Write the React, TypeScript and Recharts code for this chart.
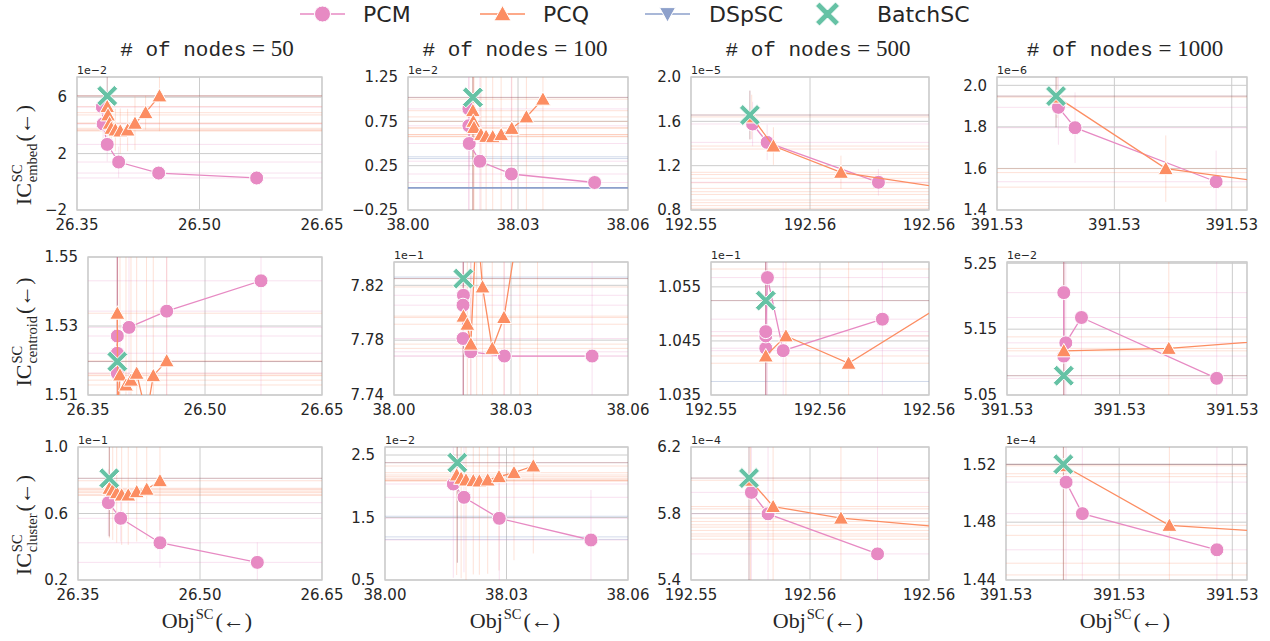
import React from 'react';
import { ScatterChart, Scatter, XAxis, YAxis, CartesianGrid, ReferenceLine, ReferenceArea } from 'recharts';

type P = [number, number, number, number]; // x, y, xErr, yErr

const PINK = '#e78ac3';
const ORANGE = '#fc8d62';
const BLUE = '#8da0cb';
const GREEN = '#66c2a5';
const TXT = '#262626';

const seriesNames = ['PCM', 'PCQ', 'DSpSC', 'BatchSC'];
const nodeCounts = ['50', '100', '500', '1000'];
const metricNames = ['embed', 'centroid', 'cluster'];

// x axes (one per node count)
const xDomain50 = [26.35, 26.65];
const xTicks50 = [26.35, 26.5, 26.65];
const xDomain100 = [38.0, 38.06];
const xTicks100 = [38.0, 38.03, 38.06];
const xDomain500 = [192.553, 192.561];
const xTicks500 = [192.553, 192.557, 192.561];
const xDomain1000 = [391.53, 391.53213];
const xTicks1000 = [391.53, 391.531, 391.532];

// y axes
const yEmbed50 = [-2, 7.43];
const yEmbed50Ticks = [-2, 2, 6];
const yEmbed100 = [-0.25, 1.25];
const yEmbed100Ticks = [-0.25, 0.25, 0.75, 1.25];
const yEmbed500 = [0.8, 2.0];
const yEmbed500Ticks = [0.8, 1.2, 1.6, 2.0];
const yEmbed1000 = [1.4, 2.04];
const yEmbed1000Ticks = [1.4, 1.6, 1.8, 2.0];
const yCent50 = [1.51, 1.55];
const yCent50Ticks = [1.51, 1.53, 1.55];
const yCent100 = [7.74, 7.837];
const yCent100Ticks = [7.74, 7.78, 7.82];
const yCent500 = [1.035, 1.0596];
const yCent500Ticks = [1.035, 1.045, 1.055];
const yCent1000 = [5.05, 5.252];
const yCent1000Ticks = [5.05, 5.15, 5.25];
const yClus50 = [0.2, 1.0];
const yClus50Ticks = [0.2, 0.6, 1.0];
const yClus100 = [0.5, 2.628];
const yClus100Ticks = [0.5, 1.5, 2.5];
const yClus500 = [5.4, 6.2];
const yClus500Ticks = [5.4, 5.8, 6.2];
const yClus1000 = [1.44, 1.532];
const yClus1000Ticks = [1.44, 1.48, 1.52];

// ---------- IC embed ----------
const embed50PCM: P[] = [[26.381, 5.3, 0.5, 0.5], [26.382, 4.1, 0.5, 1.7], [26.387, 2.65, 0.5, 1.2], [26.401, 1.4, 0.5, 1.1], [26.45, 0.62, 0.5, 0.5], [26.57, 0.27, 0.5, 0.4]];
const embed50PCQ: P[] = [[26.387, 5.33, 0.5, 1.0], [26.388, 4.74, 0.5, 1.5], [26.39, 4.15, 0.5, 1.5], [26.392, 3.79, 0.5, 1.5], [26.397, 3.67, 0.5, 1.5], [26.403, 3.6, 0.5, 1.6], [26.412, 3.67, 0.5, 1.5], [26.421, 4.15, 0.5, 1.9], [26.434, 4.9, 0.5, 1.2], [26.451, 6.09, 0.5, 2.5]];
const embed50DSp: P[] = [];
const embed50Batch: P[] = [[26.387, 6.09, 0.5, 1.4]];

const embed100PCM: P[] = [[38.0166, 0.89, 0.5, 1.5], [38.0166, 0.7, 0.5, 1.5], [38.0167, 0.5, 0.5, 0.3], [38.0196, 0.3, 0.5, 1.5], [38.0282, 0.156, 0.5, 1.5], [38.0509, 0.06, 0.5, 0.05]];
const embed100PCQ: P[] = [[38.0177, 0.87, 0.5, 2], [38.0178, 0.75, 0.5, 2], [38.018, 0.68, 0.5, 2], [38.0199, 0.6, 0.5, 2], [38.0213, 0.58, 0.5, 2], [38.0231, 0.576, 0.5, 2], [38.0254, 0.6, 0.5, 2], [38.0283, 0.67, 0.5, 2], [38.0323, 0.8, 0.5, 2], [38.0368, 1.0, 0.5, 2]];
const embed100DSp: P[] = [[37.95, 0.0, 0, 0], [38.12, 0.0, 0.5, 0], [38.2, 0.33, 0.5, 0], [38.25, 0.35, 0.5, 0]];
const embed100Batch: P[] = [[38.0177, 1.02, 0.5, 2]];

const embed500PCM: P[] = [[192.55507, 1.576, 0.05, 0.2], [192.55556, 1.41, 0.05, 0.16], [192.5593, 1.05, 0.05, 0.12]];
const embed500PCQ: P[] = [[192.55504, 1.64, 0.05, 0.2], [192.55577, 1.377, 0.05, 0.17], [192.55804, 1.14, 0.05, 0.15], [192.563, 0.94, 0.05, 0.1], [192.565, 1.086, 0.05, 0], [192.567, 1.046, 0.05, 0], [192.569, 0.995, 0.05, 0], [192.571, 0.965, 0.05, 0], [192.573, 0.89, 0.05, 0], [192.575, 0.866, 0.05, 0], [192.577, 0.84, 0.05, 0], [192.579, 0.815, 0.05, 0], [192.581, 1.12, 0.05, 0], [192.583, 1.35, 0.05, 0]];
const embed500DSp: P[] = [];
const embed500Batch: P[] = [[192.55498, 1.657, 0.05, 0.22]];

const embed1000PCM: P[] = [[391.530523, 1.894, 0.05, 0.18], [391.530665, 1.796, 0.05, 0.17], [391.531867, 1.536, 0.05, 0.15]];
const embed1000PCQ: P[] = [[391.530512, 1.943, 0.05, 0.1], [391.531438, 1.599, 0.05, 0.16], [391.5326, 1.51, 0.05, 0.1], [391.533, 1.58, 0.05, 0]];
const embed1000DSp: P[] = [];
const embed1000Batch: P[] = [[391.530503, 1.948, 0.05, 0.15]];

// ---------- IC centroid ----------
const cent50PCM: P[] = [[26.3876, 1.5163, 0.5, 1], [26.3876, 1.5221, 0.5, 1], [26.3876, 1.5271, 0.5, 1], [26.4026, 1.5296, 0.5, 1], [26.4509, 1.5343, 0.5, 1], [26.5718, 1.5431, 0.5, 1]];
const cent50PCQ: P[] = [[26.3876, 1.5337, 0.5, 1], [26.388, 1.505, 0.5, 1], [26.391, 1.5158, 0.5, 1], [26.3987, 1.5129, 0.5, 1], [26.4051, 1.5143, 0.5, 1], [26.4124, 1.5163, 0.5, 1], [26.425, 1.504, 0.5, 1], [26.4337, 1.5156, 0.5, 1], [26.4509, 1.5199, 0.5, 1]];
const cent50DSp: P[] = [];
const cent50Batch: P[] = [[26.3876, 1.5197, 0.5, 1]];

const cent100PCM: P[] = [[38.0178, 7.8127, 0.5, 1], [38.0177, 7.8055, 0.5, 1], [38.0177, 7.7812, 0.5, 1], [38.0197, 7.7715, 0.5, 1], [38.0283, 7.7684, 0.5, 1], [38.0508, 7.7684, 0.5, 1]];
const cent100PCQ: P[] = [[38.0178, 7.7975, 0.5, 1], [38.0188, 7.7916, 0.5, 1], [38.0197, 7.7771, 0.5, 1], [38.0212, 7.87, 0.5, 1], [38.0227, 7.8188, 0.5, 1], [38.0252, 7.774, 0.5, 1], [38.0282, 7.7965, 0.5, 1], [38.0323, 7.87, 0.5, 1], [38.0368, 7.9, 0.5, 1]];
const cent100DSp: P[] = [[38.2, 7.826, 0.5, 0]];
const cent100Batch: P[] = [[38.01778, 7.8249, 0.5, 1]];

const cent500PCM: P[] = [[192.55501, 1.04365, 0.05, 1], [192.55501, 1.04593, 0.05, 1], [192.55501, 1.04672, 0.05, 1], [192.55507, 1.05672, 0.05, 1], [192.55565, 1.0432, 0.05, 1], [192.55929, 1.04902, 0.05, 1]];
const cent500PCQ: P[] = [[192.55501, 1.04222, 0.05, 1], [192.55575, 1.04593, 0.05, 1], [192.55805, 1.04087, 0.05, 1], [192.5636, 1.0583, 0.05, 1]];
const cent500DSp: P[] = [[192.58, 1.0375, 0.05, 0]];
const cent500Batch: P[] = [[192.55501, 1.05246, 0.05, 1]];

const cent1000PCM: P[] = [[391.530504, 5.2055, 0.05, 1], [391.530504, 5.1091, 0.05, 1], [391.530522, 5.1292, 0.05, 1], [391.530661, 5.1677, 0.05, 1], [391.531861, 5.0753, 0.05, 1]];
const cent1000PCQ: P[] = [[391.530504, 5.1171, 0.05, 1], [391.531436, 5.1208, 0.05, 1], [391.53277, 5.1383, 0.05, 1]];
const cent1000DSp: P[] = [];
const cent1000Batch: P[] = [[391.530504, 5.0793, 0.05, 1]];

// ---------- IC cluster ----------
const clus50PCM: P[] = [[26.3873, 0.665, 0.5, 0.2], [26.4025, 0.571, 0.5, 0.14], [26.4508, 0.424, 0.5, 0.15], [26.5705, 0.306, 0.5, 0.12]];
const clus50PCQ: P[] = [[26.3885, 0.7516, 0.5, 0.3], [26.3927, 0.741, 0.5, 0.3], [26.3976, 0.725, 0.5, 0.3], [26.4037, 0.711, 0.5, 0.3], [26.4118, 0.711, 0.5, 0.3], [26.4222, 0.731, 0.5, 0.3], [26.4345, 0.746, 0.5, 0.3], [26.4508, 0.797, 0.5, 0.3]];
const clus50DSp: P[] = [];
const clus50Batch: P[] = [[26.3885, 0.8117, 0.5, 0.35]];

const clus100PCM: P[] = [[38.01687, 2.036, 0.5, 1.5], [38.0195, 1.823, 0.5, 1.2], [38.02822, 1.487, 0.5, 1.2], [38.05086, 1.14, 0.5, 0.8]];
const clus100PCQ: P[] = [[38.0177, 2.18, 0.5, 1.6], [38.0188, 2.127, 0.5, 1.6], [38.02, 2.1, 0.5, 1.6], [38.0218, 2.089, 0.5, 1.5], [38.0233, 2.084, 0.5, 1.5], [38.02536, 2.1, 0.5, 1.5], [38.02815, 2.153, 0.5, 1.5], [38.03185, 2.217, 0.5, 1.4], [38.03662, 2.324, 0.5, 1.4]];
const clus100DSp: P[] = [[38.2, 1.19, 0.5, 0], [38.22, 1.15, 0.5, 0], [38.24, 1.52, 0.5, 0]];
const clus100Batch: P[] = [[38.01786, 2.377, 0.5, 1.6]];

const clus500PCM: P[] = [[192.55503, 5.927, 0.05, 1], [192.55559, 5.798, 0.05, 1], [192.55927, 5.557, 0.05, 1]];
const clus500PCQ: P[] = [[192.555, 6.0, 0.05, 1], [192.55576, 5.842, 0.05, 1], [192.55804, 5.772, 0.05, 1], [192.565, 5.664, 0.05, 0], [192.567, 5.828, 0.05, 0], [192.569, 5.752, 0.05, 0], [192.571, 5.732, 0.05, 0], [192.573, 5.718, 0.05, 0], [192.575, 5.698, 0.05, 0], [192.577, 5.677, 0.05, 0], [192.579, 5.645, 0.05, 0]];
const clus500DSp: P[] = [];
const clus500Batch: P[] = [[192.55495, 6.013, 0.05, 1]];

const clus1000PCM: P[] = [[391.530531, 1.5077, 0.05, 1], [391.530675, 1.4859, 0.05, 1], [391.531864, 1.4609, 0.05, 1]];
const clus1000PCQ: P[] = [[391.53051, 1.519, 0.05, 1], [391.531444, 1.4778, 0.05, 1], [391.5328, 1.4709, 0.05, 0], [391.5335, 1.5135, 0.05, 0], [391.534, 1.5115, 0.05, 0], [391.5345, 1.4516, 0.05, 0], [391.535, 1.4435, 0.05, 0]];
const clus1000DSp: P[] = [];
const clus1000Batch: P[] = [[391.530507, 1.52, 0.05, 1]];

type Cfg = {
  L: number; R: number; T: number; B: number;
  xd: number[]; xt: number[]; yd: number[]; yt: number[]; yDec: number; off: string;
  pcm: P[]; pcq: P[]; dsp: P[]; batch: P[];
};

const panels: Cfg[] = [
  { L: 77, R: 322, T: 77, B: 210, xd: xDomain50, xt: xTicks50, yd: yEmbed50, yt: yEmbed50Ticks, yDec: 0, off: '1e\u22122', pcm: embed50PCM, pcq: embed50PCQ, dsp: embed50DSp, batch: embed50Batch },
  { L: 408, R: 628, T: 77, B: 210, xd: xDomain100, xt: xTicks100, yd: yEmbed100, yt: yEmbed100Ticks, yDec: 2, off: '1e\u22122', pcm: embed100PCM, pcq: embed100PCQ, dsp: embed100DSp, batch: embed100Batch },
  { L: 691, R: 929, T: 77, B: 210, xd: xDomain500, xt: xTicks500, yd: yEmbed500, yt: yEmbed500Ticks, yDec: 1, off: '1e\u22125', pcm: embed500PCM, pcq: embed500PCQ, dsp: embed500DSp, batch: embed500Batch },
  { L: 997, R: 1247, T: 77, B: 210, xd: xDomain1000, xt: xTicks1000, yd: yEmbed1000, yt: yEmbed1000Ticks, yDec: 1, off: '1e\u22126', pcm: embed1000PCM, pcq: embed1000PCQ, dsp: embed1000DSp, batch: embed1000Batch },
  { L: 88, R: 322, T: 257, B: 395, xd: xDomain50, xt: xTicks50, yd: yCent50, yt: yCent50Ticks, yDec: 2, off: '', pcm: cent50PCM, pcq: cent50PCQ, dsp: cent50DSp, batch: cent50Batch },
  { L: 394, R: 628, T: 262, B: 395, xd: xDomain100, xt: xTicks100, yd: yCent100, yt: yCent100Ticks, yDec: 2, off: '1e\u22121', pcm: cent100PCM, pcq: cent100PCQ, dsp: cent100DSp, batch: cent100Batch },
  { L: 711, R: 929, T: 262, B: 395, xd: xDomain500, xt: xTicks500, yd: yCent500, yt: yCent500Ticks, yDec: 3, off: '1e\u22121', pcm: cent500PCM, pcq: cent500PCQ, dsp: cent500DSp, batch: cent500Batch },
  { L: 1007, R: 1247, T: 262, B: 395, xd: xDomain1000, xt: xTicks1000, yd: yCent1000, yt: yCent1000Ticks, yDec: 2, off: '1e\u22122', pcm: cent1000PCM, pcq: cent1000PCQ, dsp: cent1000DSp, batch: cent1000Batch },
  { L: 78, R: 322, T: 447, B: 580, xd: xDomain50, xt: xTicks50, yd: yClus50, yt: yClus50Ticks, yDec: 1, off: '1e\u22121', pcm: clus50PCM, pcq: clus50PCQ, dsp: clus50DSp, batch: clus50Batch },
  { L: 385, R: 628, T: 447, B: 580, xd: xDomain100, xt: xTicks100, yd: yClus100, yt: yClus100Ticks, yDec: 1, off: '1e\u22122', pcm: clus100PCM, pcq: clus100PCQ, dsp: clus100DSp, batch: clus100Batch },
  { L: 691, R: 929, T: 447, B: 580, xd: xDomain500, xt: xTicks500, yd: yClus500, yt: yClus500Ticks, yDec: 1, off: '1e\u22124', pcm: clus500PCM, pcq: clus500PCQ, dsp: clus500DSp, batch: clus500Batch },
  { L: 1006, R: 1247, T: 447, B: 580, xd: xDomain1000, xt: xTicks1000, yd: yClus1000, yt: yClus1000Ticks, yDec: 2, off: '1e\u22124', pcm: clus1000PCM, pcq: clus1000PCQ, dsp: clus1000DSp, batch: clus1000Batch },
];

// ---------- marker shapes ----------
const circleMark = (cx: number, cy: number, r = 7) => <circle cx={cx} cy={cy} r={r} fill={PINK} stroke="#fff" strokeWidth={1} />;
const triUpMark = (cx: number, cy: number, r = 7.5) => (
  <polygon points={`${cx},${cy - r} ${cx + r},${cy + r * 0.8} ${cx - r},${cy + r * 0.8}`} fill={ORANGE} stroke="#fff" strokeWidth={1} />
);
const triDownMark = (cx: number, cy: number, r = 7.5) => (
  <polygon points={`${cx},${cy + r} ${cx + r},${cy - r * 0.8} ${cx - r},${cy - r * 0.8}`} fill={BLUE} stroke="#fff" strokeWidth={1} />
);
const xMark = (cx: number, cy: number, s = 10.5, w = 3.4) => {
  const pts = [
    [0, -w], [s - w, -s], [s, -s + w], [w, 0], [s, s - w], [s - w, s],
    [0, w], [-s + w, s], [-s, s - w], [-w, 0], [-s, -s + w], [-s + w, -s],
  ].map(([a, b]) => `${cx + a},${cy + b}`).join(' ');
  return <polygon points={pts} fill={GREEN} stroke="#fff" strokeWidth={1} />;
};
const PinkCircle = (p: any) => circleMark(p.cx, p.cy);
const OrangeTri = (p: any) => triUpMark(p.cx, p.cy);
const BlueTri = (p: any) => triDownMark(p.cx, p.cy);
const GreenX = (p: any) => xMark(p.cx, p.cy);

const rows = (a: P[]) => a.map(([x, y, ex, ey]) => ({ x, y, ex, ey }));
const fmtY = (v: number, d: number) => v.toFixed(d).replace('-', '\u2212');

const YW = 70, MT = 10, MR = 35, XH = 30;

function errorLines(c: Cfg) {
  const sets: [P[], string][] = [
    [c.dsp, 'rgba(141,160,203,0.4)'],
    [c.pcq, 'rgba(252,141,98,0.25)'],
    [c.pcm, 'rgba(231,138,195,0.25)'],
    [c.batch, 'rgba(160,100,110,0.5)'],
  ];
  const out: React.ReactElement[] = [];
  sets.forEach(([pts, col], si) => {
    pts.forEach(([x, y, ex, ey], pi) => {
      if (ex > 0) {
        out.push(<ReferenceLine key={`h${si}-${pi}`} segment={[{ x: x - ex, y }, { x: x + ex, y }]} stroke={col} strokeWidth={1} ifOverflow="hidden" />);
      }
      if (ey > 0) {
        out.push(<ReferenceLine key={`v${si}-${pi}`} segment={[{ x, y: y - ey }, { x, y: y + ey }]} stroke={col} strokeWidth={1} ifOverflow="hidden" />);
      }
    });
  });
  return out;
}

function Panel({ c }: { c: Cfg }) {
  const w = c.R - c.L + YW + MR;
  const h = c.B - c.T + MT + XH;
  const tickStyle = { fontSize: 15, fill: TXT, fontFamily: 'DejaVu Sans' };
  return (
    <div style={{ position: 'absolute', left: c.L - YW, top: c.T - MT, width: w, height: h }}>
      <ScatterChart width={w} height={h} margin={{ top: MT, right: MR, bottom: 0, left: 0 }}>
        <CartesianGrid stroke="#cccccc" strokeWidth={1} />
        <XAxis type="number" dataKey="x" domain={c.xd} ticks={c.xt} allowDataOverflow interval={0} height={XH}
          tickLine={false} axisLine={false} tick={tickStyle} tickMargin={3} tickFormatter={(v: number) => v.toFixed(2)} />
        <YAxis type="number" dataKey="y" domain={c.yd} ticks={c.yt} allowDataOverflow interval={0} width={YW}
          tickLine={false} axisLine={false} tick={tickStyle} tickMargin={4} tickFormatter={(v: number) => fmtY(v, c.yDec)} />
        {errorLines(c)}
        <Scatter data={rows(c.dsp)} shape={BlueTri} line={{ stroke: BLUE, strokeWidth: 1.6 }} isAnimationActive={false} />
        <Scatter data={rows(c.pcm)} shape={PinkCircle} line={{ stroke: PINK, strokeWidth: 1.3 }} isAnimationActive={false} />
        <Scatter data={rows(c.pcq)} shape={OrangeTri} line={{ stroke: ORANGE, strokeWidth: 1.3 }} isAnimationActive={false} />
        <Scatter data={rows(c.batch)} shape={GreenX} isAnimationActive={false} />
        <ReferenceArea x1={c.xd[0]} x2={c.xd[1]} y1={c.yd[0]} y2={c.yd[1]} fill="none" stroke="#cccccc" strokeWidth={1.3} ifOverflow="visible" />
      </ScatterChart>
    </div>
  );
}

// ---------- text helpers ----------
let ctx: CanvasRenderingContext2D | null = null;
const measure = (t: string, size: number, family: string) => {
  if (!ctx) { try { ctx = document.createElement('canvas').getContext('2d'); } catch (e) { ctx = null; } }
  if (!ctx) return t.length * size * 0.5;
  ctx.font = `${size}px ${family}`;
  return ctx.measureText(t).width;
};

function MathText({ x, y, base, sup, sub, tail, size, rotate = 0 }: any) {
  const fam = '"Liberation Serif"';
  const s2 = size * 0.66;
  const wb = measure(base, size, fam);
  const wsup = sup ? measure(sup, s2, fam) : 0;
  const wsub = sub ? measure(sub, s2, fam) : 0;
  const wt = measure(tail, size, fam);
  const mid = Math.max(wsup, wsub) + 2;
  const total = wb + 1 + mid + wt;
  const x0 = -total / 2;
  return (
    <g transform={`translate(${x},${y}) rotate(${rotate})`} fontFamily="Liberation Serif" fill={TXT}>
      <text x={x0} y={0} fontSize={size}>{base}</text>
      {sup ? <text x={x0 + wb + 1} y={-size * 0.4} fontSize={s2}>{sup}</text> : null}
      {sub ? <text x={x0 + wb + 1} y={size * 0.26} fontSize={s2}>{sub}</text> : null}
      <text x={x0 + wb + 1 + mid} y={0} fontSize={size}>{tail}</text>
    </g>
  );
}

const colCenters = [207, 515, 818, 1125];
const rowLabelCenters = [155, 332, 525];

export default function App() {
  const legendX = [300, 480, 645, 805];
  const legendTextX = [363, 543, 709, 877];
  return (
    <div style={{ position: 'absolute', left: 0, top: 0, width: 1270, height: 641, background: '#fff', overflow: 'hidden' }}>
      {panels.map((c, i) => <Panel key={i} c={c} />)}
      <svg width={1270} height={641} style={{ position: 'absolute', left: 0, top: 0, pointerEvents: 'none' }}>
        {seriesNames.map((n, i) => {
          const x0 = legendX[i];
          const cx = x0 + 22.5;
          const cy = 14;
          return (
            <g key={n}>
              {i < 3 ? <line x1={x0} x2={x0 + 45} y1={cy} y2={cy} stroke={[PINK, ORANGE, BLUE][i]} strokeWidth={1.6} /> : null}
              {i === 0 ? circleMark(cx, cy, 8) : i === 1 ? triUpMark(cx, cy, 8.5) : i === 2 ? triDownMark(cx, cy, 8) : xMark(cx, cy, 12, 4)}
              <text x={legendTextX[i]} y={cy + 8} fontSize={22} fontFamily="DejaVu Sans" fill={TXT}>{n}</text>
            </g>
          );
        })}
        {nodeCounts.map((n, i) => (
          <text key={n} x={colCenters[i]} y={56} textAnchor="middle" fill={TXT}>
            <tspan fontFamily="Liberation Mono" fontSize={21}># of nodes</tspan>
            <tspan fontFamily="Liberation Serif" fontSize={23}>{'\u00a0=\u00a0' + n}</tspan>
          </text>
        ))}
        {panels.map((c, i) => c.off ? (
          <text key={'o' + i} x={c.L} y={c.T - 3} fontSize={11} fontFamily="DejaVu Sans" fill={TXT}>{c.off}</text>
        ) : null)}
        {metricNames.map((m, i) => (
          <MathText key={m} x={31} y={rowLabelCenters[i]} base="IC" sup="SC" sub={m} tail={'(\u2190)'} size={22} rotate={-90} />
        ))}
        {colCenters.map((cx, i) => (
          <MathText key={'xl' + i} x={cx} y={628} base="Obj" sup="SC" sub="" tail={'(\u2190)'} size={22} />
        ))}
      </svg>
    </div>
  );
}
